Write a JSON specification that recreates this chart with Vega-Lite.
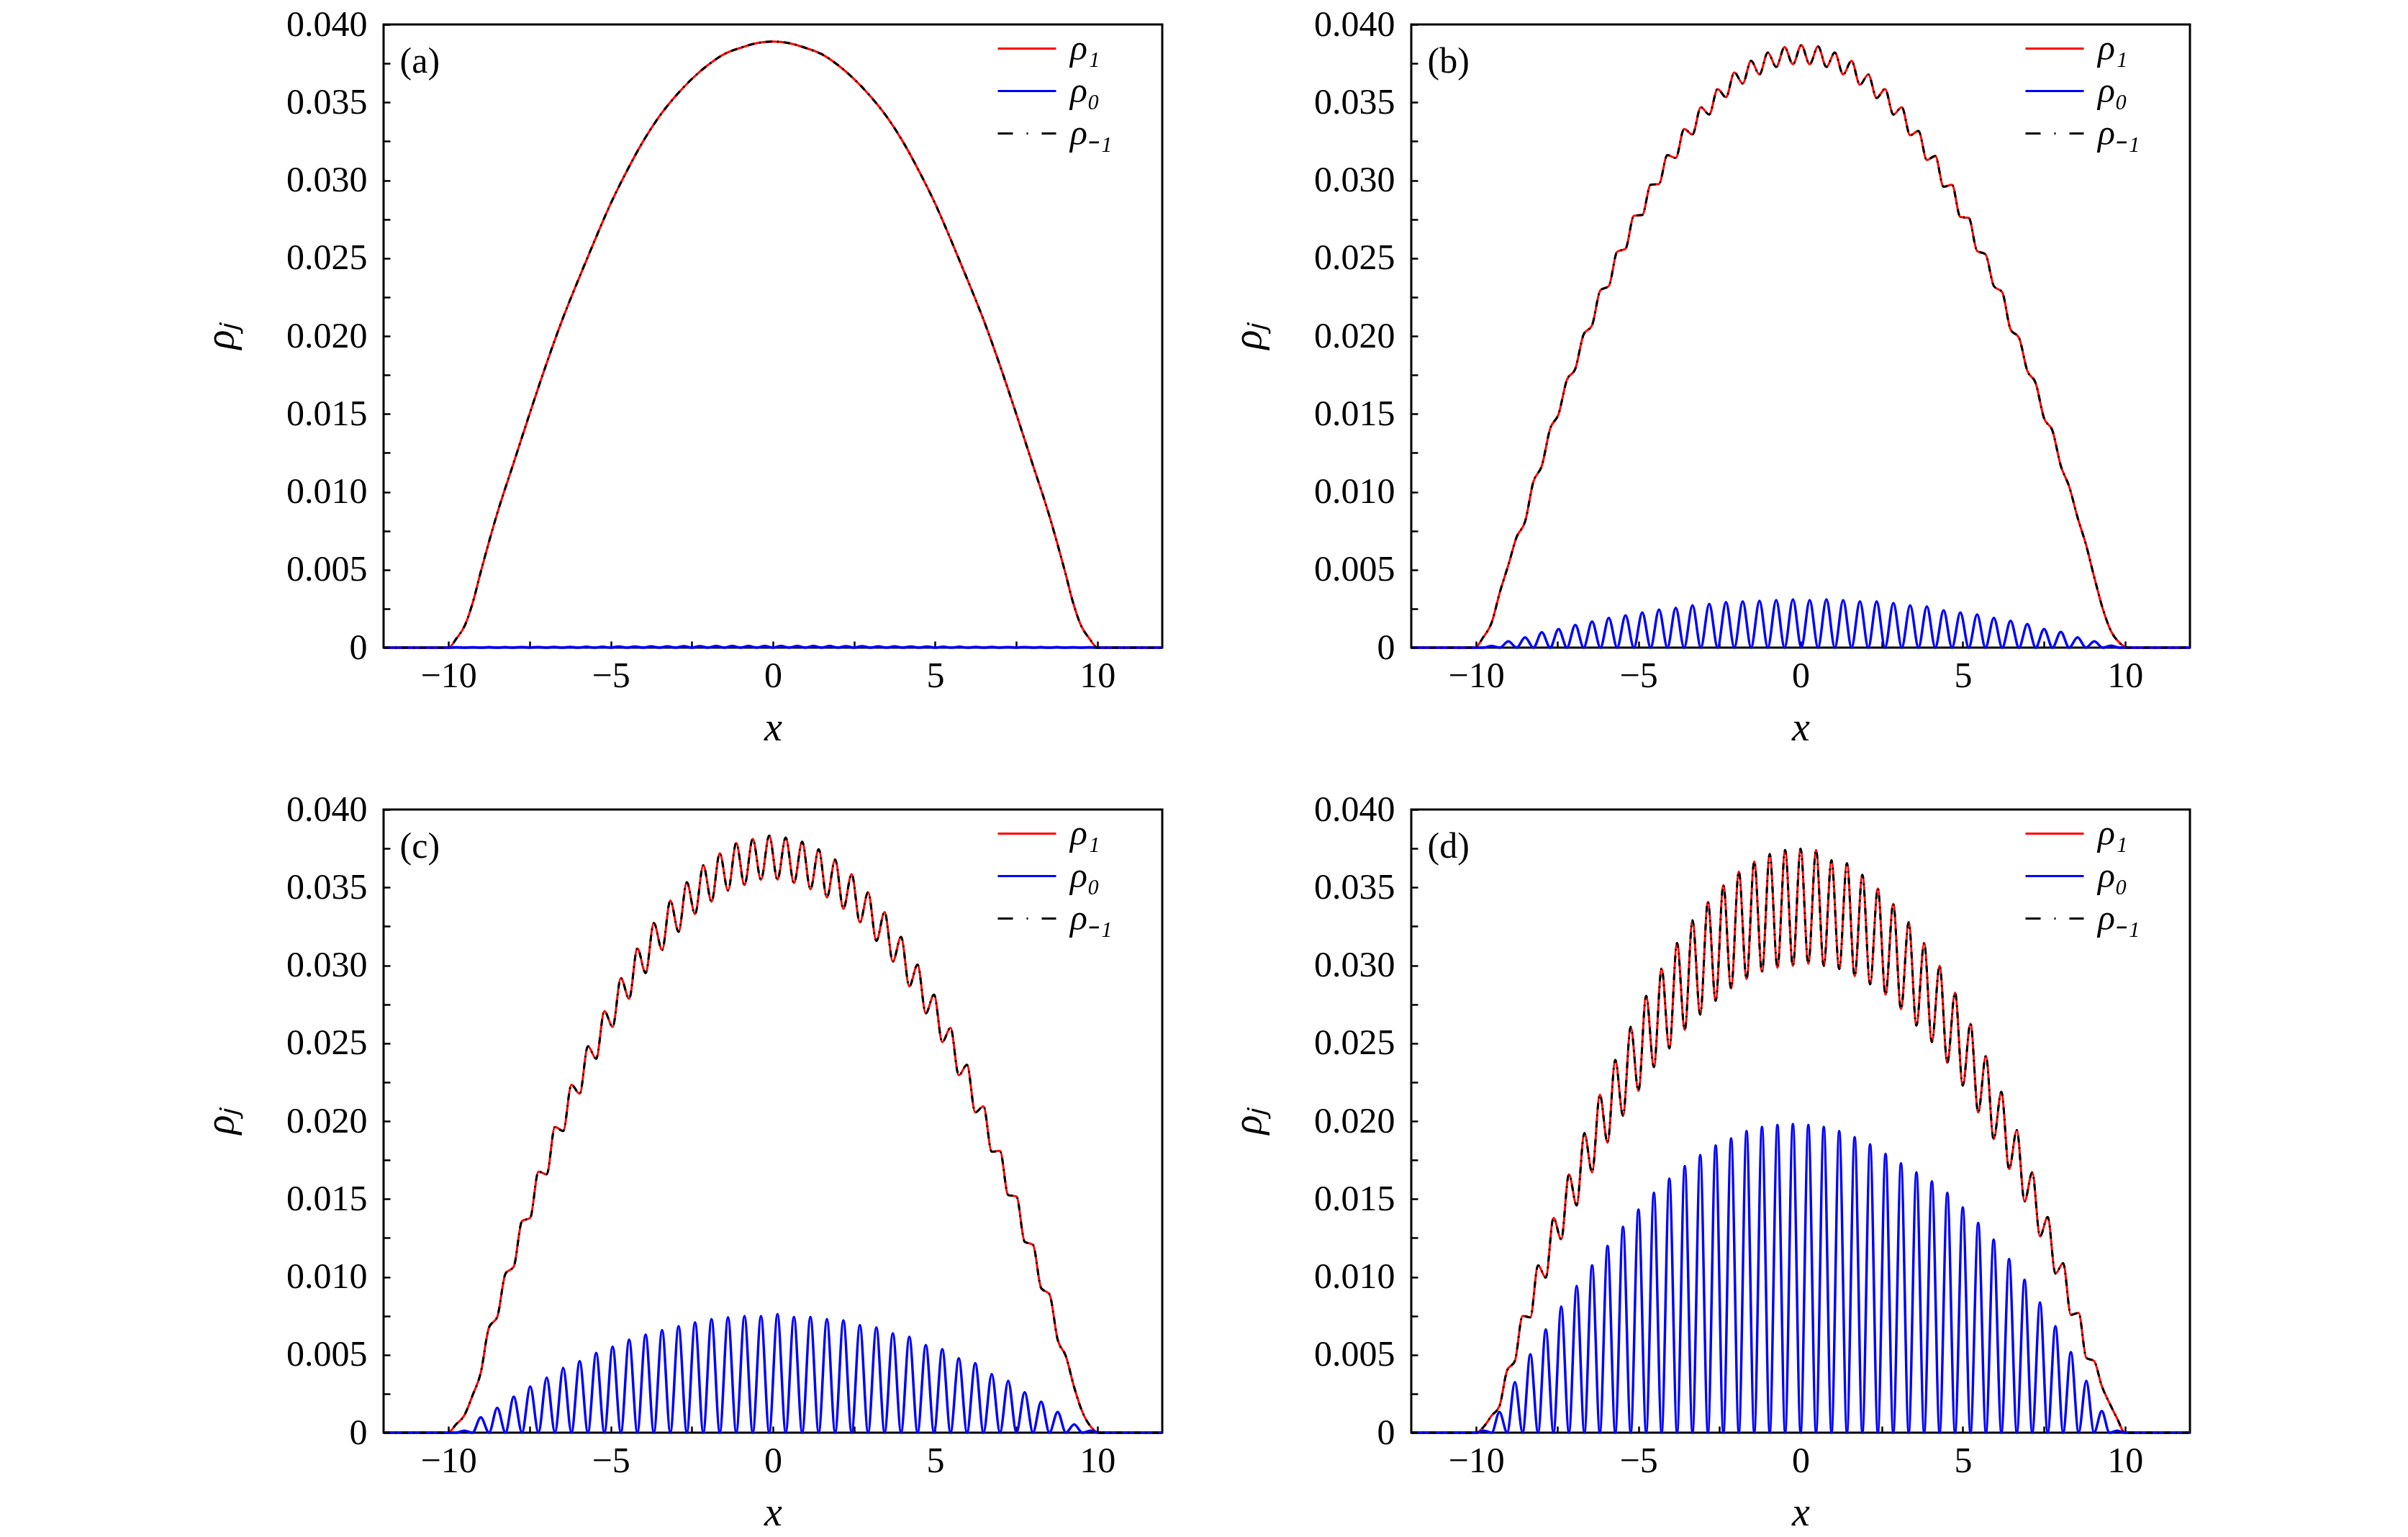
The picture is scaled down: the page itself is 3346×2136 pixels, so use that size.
{
  "$schema": "https://vega.github.io/schema/vega-lite/v6.json",
  "background": "white",
  "padding": {"left": 277, "top": 7, "right": 5, "bottom": 5},
  "datasets": {
    "a": [
      {"x": -12, "p1": 0, "p0": 0},
      {"x": -10, "p1": 0, "p0": 0},
      {"x": -9.75, "p1": 0.0006, "p0": 0.00002},
      {"x": -9.5, "p1": 0.0014, "p0": 0},
      {"x": -9.25, "p1": 0.0029, "p0": 0.00002},
      {"x": -9, "p1": 0.0049, "p0": 0},
      {"x": -8.75, "p1": 0.0068, "p0": 0.00003},
      {"x": -8.5, "p1": 0.0086, "p0": 0},
      {"x": -8.25, "p0": 0.00003},
      {"x": -8, "p1": 0.0118, "p0": 0},
      {"x": -7.75, "p0": 0.00004},
      {"x": -7.5, "p1": 0.015, "p0": 0},
      {"x": -7.25, "p0": 0.00004},
      {"x": -7, "p1": 0.0181, "p0": 0},
      {"x": -6.75, "p0": 0.00005},
      {"x": -6.5, "p1": 0.021, "p0": 0},
      {"x": -6.25, "p0": 0.00005},
      {"x": -6, "p1": 0.0236, "p0": 0},
      {"x": -5.75, "p0": 0.00006},
      {"x": -5.5, "p1": 0.0261, "p0": 0},
      {"x": -5.25, "p0": 0.00006},
      {"x": -5, "p1": 0.0285, "p0": 0},
      {"x": -4.75, "p0": 0.00007},
      {"x": -4.5, "p1": 0.0306, "p0": 0},
      {"x": -4.25, "p0": 0.00007},
      {"x": -4, "p1": 0.0325, "p0": 0},
      {"x": -3.75, "p0": 0.00008},
      {"x": -3.5, "p1": 0.0341, "p0": 0},
      {"x": -3.25, "p0": 0.00008},
      {"x": -3, "p1": 0.0354, "p0": 0},
      {"x": -2.75, "p0": 0.00009},
      {"x": -2.5, "p1": 0.0365, "p0": 0},
      {"x": -2.25, "p0": 0.00009},
      {"x": -2, "p1": 0.0374, "p0": 0},
      {"x": -1.75, "p0": 0.0001},
      {"x": -1.5, "p1": 0.0381, "p0": 0},
      {"x": -1.25, "p0": 0.0001},
      {"x": -1, "p1": 0.0385, "p0": 0},
      {"x": -0.75, "p0": 0.0001},
      {"x": -0.5, "p1": 0.0388, "p0": 0},
      {"x": -0.25, "p0": 0.0001},
      {"x": 0, "p1": 0.0389, "p0": 0},
      {"x": 0.25, "p0": 0.0001},
      {"x": 0.5, "p1": 0.0388, "p0": 0},
      {"x": 0.75, "p0": 0.0001},
      {"x": 1, "p1": 0.0385, "p0": 0},
      {"x": 1.25, "p0": 0.0001},
      {"x": 1.5, "p1": 0.0381, "p0": 0},
      {"x": 1.75, "p0": 0.0001},
      {"x": 2, "p1": 0.0374, "p0": 0},
      {"x": 2.25, "p0": 0.00009},
      {"x": 2.5, "p1": 0.0365, "p0": 0},
      {"x": 2.75, "p0": 0.00009},
      {"x": 3, "p1": 0.0354, "p0": 0},
      {"x": 3.25, "p0": 0.00008},
      {"x": 3.5, "p1": 0.0341, "p0": 0},
      {"x": 3.75, "p0": 0.00008},
      {"x": 4, "p1": 0.0325, "p0": 0},
      {"x": 4.25, "p0": 0.00007},
      {"x": 4.5, "p1": 0.0306, "p0": 0},
      {"x": 4.75, "p0": 0.00007},
      {"x": 5, "p1": 0.0285, "p0": 0},
      {"x": 5.25, "p0": 0.00006},
      {"x": 5.5, "p1": 0.0261, "p0": 0},
      {"x": 5.75, "p0": 0.00006},
      {"x": 6, "p1": 0.0236, "p0": 0},
      {"x": 6.25, "p0": 0.00005},
      {"x": 6.5, "p1": 0.021, "p0": 0},
      {"x": 6.75, "p0": 0.00005},
      {"x": 7, "p1": 0.0181, "p0": 0},
      {"x": 7.25, "p0": 0.00004},
      {"x": 7.5, "p1": 0.015, "p0": 0},
      {"x": 7.75, "p0": 0.00004},
      {"x": 8, "p1": 0.0118, "p0": 0},
      {"x": 8.25, "p0": 0.00003},
      {"x": 8.5, "p1": 0.0086, "p0": 0},
      {"x": 8.75, "p1": 0.0068, "p0": 0.00003},
      {"x": 9, "p1": 0.0049, "p0": 0},
      {"x": 9.25, "p1": 0.0029, "p0": 0.00002},
      {"x": 9.5, "p1": 0.0014, "p0": 0},
      {"x": 9.75, "p1": 0.0006, "p0": 0.00002},
      {"x": 10, "p1": 0, "p0": 0},
      {"x": 12, "p1": 0, "p0": 0}
    ],
    "b": [
      {"x": -12, "p1": 0, "p0": 0},
      {"x": -10.04, "p1": 0, "p0": 0},
      {"x": -9.782, "p1": 0.00066, "p0": 0},
      {"x": -9.524, "p1": 0.00159, "p0": 0.0001},
      {"x": -9.266, "p1": 0.00358, "p0": 0},
      {"x": -9.008, "p1": 0.0053, "p0": 0.0004},
      {"x": -8.75, "p1": 0.00711, "p0": 0},
      {"x": -8.492, "p1": 0.00809, "p0": 0.00066},
      {"x": -8.234, "p1": 0.01066, "p0": 0},
      {"x": -7.976, "p1": 0.01167, "p0": 0.00098},
      {"x": -7.718, "p1": 0.01406, "p0": 0},
      {"x": -7.46, "p1": 0.01499, "p0": 0.00119},
      {"x": -7.202, "p1": 0.01719, "p0": 0},
      {"x": -6.944, "p1": 0.0179, "p0": 0.00146},
      {"x": -6.686, "p1": 0.02011, "p0": 0},
      {"x": -6.428, "p1": 0.02069, "p0": 0.00167},
      {"x": -6.17, "p1": 0.02294, "p0": 0},
      {"x": -5.912, "p1": 0.02321, "p0": 0.00191},
      {"x": -5.654, "p1": 0.02541, "p0": 0},
      {"x": -5.396, "p1": 0.0256, "p0": 0.00207},
      {"x": -5.138, "p1": 0.02772, "p0": 0},
      {"x": -4.88, "p1": 0.02777, "p0": 0.00225},
      {"x": -4.622, "p1": 0.02971, "p0": 0},
      {"x": -4.364, "p1": 0.02976, "p0": 0.00244},
      {"x": -4.106, "p1": 0.03162, "p0": 0},
      {"x": -3.848, "p1": 0.03143, "p0": 0.00255},
      {"x": -3.59, "p1": 0.03329, "p0": 0},
      {"x": -3.332, "p1": 0.03294, "p0": 0.00271},
      {"x": -3.074, "p1": 0.03469, "p0": 0},
      {"x": -2.816, "p1": 0.03422, "p0": 0.00281},
      {"x": -2.558, "p1": 0.03586, "p0": 0},
      {"x": -2.3, "p1": 0.03533, "p0": 0.00292},
      {"x": -2.042, "p1": 0.03692, "p0": 0},
      {"x": -1.784, "p1": 0.03621, "p0": 0.00297},
      {"x": -1.526, "p1": 0.03767, "p0": 0},
      {"x": -1.268, "p1": 0.03679, "p0": 0.003},
      {"x": -1.01, "p1": 0.0382, "p0": 0},
      {"x": -0.752, "p1": 0.03727, "p0": 0.00305},
      {"x": -0.494, "p1": 0.03854, "p0": 0},
      {"x": -0.236, "p1": 0.03745, "p0": 0.0031},
      {"x": 0.022, "p1": 0.03867, "p0": 0},
      {"x": 0.28, "p1": 0.03745, "p0": 0.00305},
      {"x": 0.538, "p1": 0.03859, "p0": 0},
      {"x": 0.796, "p1": 0.03727, "p0": 0.0031},
      {"x": 1.054, "p1": 0.0382, "p0": 0},
      {"x": 1.312, "p1": 0.03679, "p0": 0.00305},
      {"x": 1.57, "p1": 0.03767, "p0": 0},
      {"x": 1.828, "p1": 0.03613, "p0": 0.00297},
      {"x": 2.086, "p1": 0.03679, "p0": 0},
      {"x": 2.344, "p1": 0.03528, "p0": 0.00297},
      {"x": 2.602, "p1": 0.03586, "p0": 0},
      {"x": 2.86, "p1": 0.03422, "p0": 0.00286},
      {"x": 3.118, "p1": 0.03469, "p0": 0},
      {"x": 3.376, "p1": 0.03289, "p0": 0.00271},
      {"x": 3.634, "p1": 0.03316, "p0": 0},
      {"x": 3.892, "p1": 0.0313, "p0": 0.00265},
      {"x": 4.15, "p1": 0.03156, "p0": 0},
      {"x": 4.408, "p1": 0.02958, "p0": 0.00239},
      {"x": 4.666, "p1": 0.02971, "p0": 0},
      {"x": 4.924, "p1": 0.02764, "p0": 0.00225},
      {"x": 5.182, "p1": 0.02759, "p0": 0},
      {"x": 5.44, "p1": 0.02546, "p0": 0.00212},
      {"x": 5.698, "p1": 0.02525, "p0": 0},
      {"x": 5.956, "p1": 0.02321, "p0": 0.00191},
      {"x": 6.214, "p1": 0.02281, "p0": 0},
      {"x": 6.472, "p1": 0.02042, "p0": 0.00172},
      {"x": 6.73, "p1": 0.01989, "p0": 0},
      {"x": 6.988, "p1": 0.01777, "p0": 0.00151},
      {"x": 7.246, "p1": 0.01698, "p0": 0},
      {"x": 7.504, "p1": 0.01472, "p0": 0.00119},
      {"x": 7.762, "p1": 0.01393, "p0": 0},
      {"x": 8.02, "p1": 0.01167, "p0": 0.00101},
      {"x": 8.278, "p1": 0.01034, "p0": 0},
      {"x": 8.536, "p1": 0.00836, "p0": 0.00066},
      {"x": 8.794, "p1": 0.00663, "p0": 0},
      {"x": 9.052, "p1": 0.00451, "p0": 0.0004},
      {"x": 9.31, "p1": 0.00252, "p0": 0},
      {"x": 9.568, "p1": 0.00106, "p0": 0.00013},
      {"x": 9.826, "p1": 0.00032, "p0": 0},
      {"x": 10.084, "p1": 0, "p0": 0},
      {"x": 12, "p1": 0, "p0": 0}
    ],
    "c": [
      {"x": -12, "p1": 0, "p0": 0},
      {"x": -10.02, "p1": 0, "p0": 0},
      {"x": -9.766, "p1": 0.00053, "p0": 0},
      {"x": -9.512, "p1": 0.00111, "p0": 0.00013},
      {"x": -9.258, "p1": 0.00239, "p0": 0},
      {"x": -9.004, "p1": 0.00385, "p0": 0.00098},
      {"x": -8.75, "p1": 0.00676, "p0": 0},
      {"x": -8.496, "p1": 0.00743, "p0": 0.00159},
      {"x": -8.242, "p1": 0.01021, "p0": 0},
      {"x": -7.988, "p1": 0.01066, "p0": 0.00231},
      {"x": -7.734, "p1": 0.01358, "p0": 0},
      {"x": -7.48, "p1": 0.01379, "p0": 0.00297},
      {"x": -7.226, "p1": 0.01676, "p0": 0},
      {"x": -6.972, "p1": 0.01658, "p0": 0.00353},
      {"x": -6.718, "p1": 0.01963, "p0": 0},
      {"x": -6.464, "p1": 0.01936, "p0": 0.00416},
      {"x": -6.21, "p1": 0.02233, "p0": 0},
      {"x": -5.956, "p1": 0.02175, "p0": 0.00459},
      {"x": -5.702, "p1": 0.0248, "p0": 0},
      {"x": -5.448, "p1": 0.024, "p0": 0.00512},
      {"x": -5.194, "p1": 0.02706, "p0": 0},
      {"x": -4.94, "p1": 0.02605, "p0": 0.00552},
      {"x": -4.686, "p1": 0.02918, "p0": 0},
      {"x": -4.432, "p1": 0.02785, "p0": 0.00597},
      {"x": -4.178, "p1": 0.03109, "p0": 0},
      {"x": -3.924, "p1": 0.0295, "p0": 0.00629},
      {"x": -3.67, "p1": 0.03271, "p0": 0},
      {"x": -3.416, "p1": 0.03098, "p0": 0.00658},
      {"x": -3.162, "p1": 0.03416, "p0": 0},
      {"x": -2.908, "p1": 0.03215, "p0": 0.00684},
      {"x": -2.654, "p1": 0.03533, "p0": 0},
      {"x": -2.4, "p1": 0.03329, "p0": 0.00708},
      {"x": -2.146, "p1": 0.03642, "p0": 0},
      {"x": -1.892, "p1": 0.03408, "p0": 0.00729},
      {"x": -1.638, "p1": 0.03719, "p0": 0},
      {"x": -1.384, "p1": 0.0348, "p0": 0.0074},
      {"x": -1.13, "p1": 0.03785, "p0": 0},
      {"x": -0.876, "p1": 0.03515, "p0": 0.00748},
      {"x": -0.622, "p1": 0.03812, "p0": 0},
      {"x": -0.368, "p1": 0.03549, "p0": 0.00748},
      {"x": -0.114, "p1": 0.03833, "p0": 0},
      {"x": 0.14, "p1": 0.0355, "p0": 0.00761},
      {"x": 0.394, "p1": 0.0382, "p0": 0},
      {"x": 0.648, "p1": 0.03528, "p0": 0.00743},
      {"x": 0.902, "p1": 0.03793, "p0": 0},
      {"x": 1.156, "p1": 0.03488, "p0": 0.00743},
      {"x": 1.41, "p1": 0.03745, "p0": 0},
      {"x": 1.664, "p1": 0.03435, "p0": 0.00729},
      {"x": 1.918, "p1": 0.03679, "p0": 0},
      {"x": 2.172, "p1": 0.03363, "p0": 0.00721},
      {"x": 2.426, "p1": 0.03586, "p0": 0},
      {"x": 2.68, "p1": 0.03276, "p0": 0.0069},
      {"x": 2.934, "p1": 0.03469, "p0": 0},
      {"x": 3.188, "p1": 0.03156, "p0": 0.00676},
      {"x": 3.442, "p1": 0.03342, "p0": 0},
      {"x": 3.696, "p1": 0.03024, "p0": 0.00637},
      {"x": 3.95, "p1": 0.03183, "p0": 0},
      {"x": 4.204, "p1": 0.02865, "p0": 0.00615},
      {"x": 4.458, "p1": 0.03005, "p0": 0},
      {"x": 4.712, "p1": 0.02692, "p0": 0.00562},
      {"x": 4.966, "p1": 0.02812, "p0": 0},
      {"x": 5.22, "p1": 0.02507, "p0": 0.00536},
      {"x": 5.474, "p1": 0.02599, "p0": 0},
      {"x": 5.728, "p1": 0.02294, "p0": 0.00477},
      {"x": 5.982, "p1": 0.02361, "p0": 0},
      {"x": 6.236, "p1": 0.02056, "p0": 0.00446},
      {"x": 6.49, "p1": 0.02095, "p0": 0},
      {"x": 6.744, "p1": 0.01804, "p0": 0.00377},
      {"x": 6.998, "p1": 0.01809, "p0": 0},
      {"x": 7.252, "p1": 0.01525, "p0": 0.00332},
      {"x": 7.506, "p1": 0.01517, "p0": 0},
      {"x": 7.76, "p1": 0.01225, "p0": 0.0026},
      {"x": 8.014, "p1": 0.01207, "p0": 0},
      {"x": 8.268, "p1": 0.00928, "p0": 0.00199},
      {"x": 8.522, "p1": 0.00889, "p0": 0},
      {"x": 8.776, "p1": 0.00597, "p0": 0.00133},
      {"x": 9.03, "p1": 0.00491, "p0": 0},
      {"x": 9.284, "p1": 0.00292, "p0": 0.00053},
      {"x": 9.538, "p1": 0.00133, "p0": 0},
      {"x": 9.792, "p1": 0.0004, "p0": 0.00013},
      {"x": 10.046, "p1": 0, "p0": 0},
      {"x": 12, "p1": 0, "p0": 0}
    ],
    "d": [
      {"x": -12, "p1": 0, "p0": 0},
      {"x": -9.996, "p1": 0, "p0": 0},
      {"x": -9.758, "p1": 0.0004, "p0": 0.00013},
      {"x": -9.52, "p1": 0.0011, "p0": 0},
      {"x": -9.282, "p1": 0.0017, "p0": 0.00133},
      {"x": -9.044, "p1": 0.004, "p0": 0},
      {"x": -8.806, "p1": 0.0046, "p0": 0.00324},
      {"x": -8.568, "p1": 0.0075, "p0": 0},
      {"x": -8.33, "p1": 0.0074, "p0": 0.00504},
      {"x": -8.092, "p1": 0.01074, "p0": 0},
      {"x": -7.854, "p1": 0.00995, "p0": 0.00663},
      {"x": -7.616, "p1": 0.01379, "p0": 0},
      {"x": -7.378, "p1": 0.01241, "p0": 0.00809},
      {"x": -7.14, "p1": 0.01658, "p0": 0},
      {"x": -6.902, "p1": 0.01459, "p0": 0.00942},
      {"x": -6.664, "p1": 0.01923, "p0": 0},
      {"x": -6.426, "p1": 0.01671, "p0": 0.01074},
      {"x": -6.188, "p1": 0.0217, "p0": 0},
      {"x": -5.95, "p1": 0.01862, "p0": 0.01199},
      {"x": -5.712, "p1": 0.02393, "p0": 0},
      {"x": -5.474, "p1": 0.02034, "p0": 0.01321},
      {"x": -5.236, "p1": 0.02605, "p0": 0},
      {"x": -4.998, "p1": 0.02194, "p0": 0.01432},
      {"x": -4.76, "p1": 0.02804, "p0": 0},
      {"x": -4.522, "p1": 0.02347, "p0": 0.01539},
      {"x": -4.284, "p1": 0.02979, "p0": 0},
      {"x": -4.046, "p1": 0.02467, "p0": 0.01631},
      {"x": -3.808, "p1": 0.03143, "p0": 0},
      {"x": -3.57, "p1": 0.02586, "p0": 0.01711},
      {"x": -3.332, "p1": 0.03289, "p0": 0},
      {"x": -3.094, "p1": 0.02684, "p0": 0.01782},
      {"x": -2.856, "p1": 0.03408, "p0": 0},
      {"x": -2.618, "p1": 0.02772, "p0": 0.01844},
      {"x": -2.38, "p1": 0.03515, "p0": 0},
      {"x": -2.142, "p1": 0.02851, "p0": 0.01889},
      {"x": -1.904, "p1": 0.03602, "p0": 0},
      {"x": -1.666, "p1": 0.02912, "p0": 0.01936},
      {"x": -1.428, "p1": 0.03666, "p0": 0},
      {"x": -1.19, "p1": 0.02958, "p0": 0.01963},
      {"x": -0.952, "p1": 0.03714, "p0": 0},
      {"x": -0.714, "p1": 0.02984, "p0": 0.01976},
      {"x": -0.476, "p1": 0.0374, "p0": 0},
      {"x": -0.238, "p1": 0.02997, "p0": 0.01981},
      {"x": 0, "p1": 0.03748, "p0": 0},
      {"x": 0.238, "p1": 0.0301, "p0": 0.01976},
      {"x": 0.476, "p1": 0.0374, "p0": 0},
      {"x": 0.714, "p1": 0.02997, "p0": 0.01963},
      {"x": 0.952, "p1": 0.03674, "p0": 0},
      {"x": 1.19, "p1": 0.02976, "p0": 0.01936},
      {"x": 1.428, "p1": 0.03655, "p0": 0},
      {"x": 1.666, "p1": 0.02931, "p0": 0.01897},
      {"x": 1.904, "p1": 0.03581, "p0": 0},
      {"x": 2.142, "p1": 0.02878, "p0": 0.01851},
      {"x": 2.38, "p1": 0.03493, "p0": 0},
      {"x": 2.618, "p1": 0.02812, "p0": 0.0179},
      {"x": 2.856, "p1": 0.03395, "p0": 0},
      {"x": 3.094, "p1": 0.02719, "p0": 0.01729},
      {"x": 3.332, "p1": 0.03276, "p0": 0},
      {"x": 3.57, "p1": 0.02613, "p0": 0.01671},
      {"x": 3.808, "p1": 0.03143, "p0": 0},
      {"x": 4.046, "p1": 0.02507, "p0": 0.01613},
      {"x": 4.284, "p1": 0.02997, "p0": 0},
      {"x": 4.522, "p1": 0.02374, "p0": 0.01539},
      {"x": 4.76, "p1": 0.02825, "p0": 0},
      {"x": 4.998, "p1": 0.02228, "p0": 0.01446},
      {"x": 5.236, "p1": 0.02626, "p0": 0},
      {"x": 5.474, "p1": 0.02056, "p0": 0.01347},
      {"x": 5.712, "p1": 0.02419, "p0": 0},
      {"x": 5.95, "p1": 0.01883, "p0": 0.01239},
      {"x": 6.188, "p1": 0.02188, "p0": 0},
      {"x": 6.426, "p1": 0.01692, "p0": 0.01114},
      {"x": 6.664, "p1": 0.01942, "p0": 0},
      {"x": 6.902, "p1": 0.01485, "p0": 0.00981},
      {"x": 7.14, "p1": 0.01671, "p0": 0},
      {"x": 7.378, "p1": 0.0126, "p0": 0.00836},
      {"x": 7.616, "p1": 0.01385, "p0": 0},
      {"x": 7.854, "p1": 0.01021, "p0": 0.00684},
      {"x": 8.092, "p1": 0.01088, "p0": 0},
      {"x": 8.33, "p1": 0.00756, "p0": 0.00517},
      {"x": 8.568, "p1": 0.00769, "p0": 0},
      {"x": 8.806, "p1": 0.0048, "p0": 0.00332},
      {"x": 9.044, "p1": 0.0046, "p0": 0},
      {"x": 9.282, "p1": 0.003, "p0": 0.00138},
      {"x": 9.52, "p1": 0.0019, "p0": 0},
      {"x": 9.758, "p1": 0.0009, "p0": 0.00013},
      {"x": 9.996, "p1": 0, "p0": 0},
      {"x": 12, "p1": 0, "p0": 0}
    ]
  },
  "columns": 2,
  "spacing": {"row": 225, "column": 346},
  "bounds": "flush",
  "resolve": {"scale": {"color": "independent"}},
  "concat": [
    {
      "width": 1082, "height": 866,
      "data": {"name": "a"},
      "layer": [
        {"mark": {"type": "line", "interpolate": "monotone", "strokeWidth": 3, "invalid": "filter"},
         "encoding": {
           "x": {"field": "x", "type": "quantitative", "title": "x",
             "scale": {"domain": [-12, 12], "nice": false, "zero": false},
             "axis": {"values": [-10, -7.5, -5, -2.5, 0, 2.5, 5, 7.5, 10],
               "labelExpr": "datum.value % 5 == 0 ? format(datum.value, 'd') : ''",
               "tickSize": -9, "labelPadding": 23, "titlePadding": 20,
               "encode": {"ticks": {"update": {"y2": {"signal": "datum.value % 5 == 0 ? -15 : -9"}}}}}},
           "y": {"field": "p1", "type": "quantitative", "title": "ρⱼ",
             "scale": {"domain": [0, 0.04], "nice": false},
             "axis": {"values": [0, 0.0025, 0.005, 0.0075, 0.01, 0.0125, 0.015, 0.0175, 0.02, 0.0225, 0.025, 0.0275, 0.03, 0.0325, 0.035, 0.0375, 0.04],
               "labelExpr": "round(datum.value*10000) % 50 == 0 ? (datum.value == 0 ? '0' : format(datum.value, '.3f')) : ''",
               "tickSize": -9, "labelPadding": 32, "titlePadding": 62,
               "encode": {"ticks": {"update": {"x2": {"signal": "round(datum.value*10000) % 50 == 0 ? 15 : 9"}}}}}},
           "color": {"datum": "ρ₁", "type": "nominal",
             "scale": {"domain": ["ρ₁", "ρ₀", "ρ₋₁"], "range": ["#ff0000", "#0000ff", "#000000"]},
             "legend": {"title": null, "encode": {"symbols": {"update": {"strokeDash": {"signal": "datum.value == 'ρ₋₁' ? [21, 19, 2, 19] : [1, 0]"}}}}}}
         }},
        {"mark": {"type": "line", "interpolate": "monotone", "strokeWidth": 3.5, "invalid": "filter"},
         "encoding": {
           "x": {"field": "x", "type": "quantitative", "title": "x", "scale": {"domain": [-12, 12], "nice": false, "zero": false}},
           "y": {"field": "p0", "type": "quantitative", "title": "ρⱼ", "scale": {"domain": [0, 0.04], "nice": false}},
           "color": {"datum": "ρ₀", "type": "nominal", "scale": {"domain": ["ρ₁", "ρ₀", "ρ₋₁"], "range": ["#ff0000", "#0000ff", "#000000"]}}
         }},
        {"mark": {"type": "line", "interpolate": "monotone", "strokeWidth": 3, "strokeDash": [9, 7, 2, 7], "invalid": "filter"},
         "encoding": {
           "x": {"field": "x", "type": "quantitative", "title": "x", "scale": {"domain": [-12, 12], "nice": false, "zero": false}},
           "y": {"field": "p1", "type": "quantitative", "title": "ρⱼ", "scale": {"domain": [0, 0.04], "nice": false}},
           "color": {"datum": "ρ₋₁", "type": "nominal", "scale": {"domain": ["ρ₁", "ρ₀", "ρ₋₁"], "range": ["#ff0000", "#0000ff", "#000000"]}}
         }},
        {"data": {"values": [{"t": "(a)"}]},
         "mark": {"type": "text", "align": "left", "baseline": "middle", "fontSize": 50, "font": "Liberation Serif", "color": "#000"},
         "encoding": {
           "x": {"datum": -11.5, "type": "quantitative", "title": "x"},
           "y": {"datum": 0.0376, "type": "quantitative", "title": "ρⱼ"},
           "text": {"field": "t"}
         }}
      ]
    },
    {
      "width": 1082, "height": 866,
      "data": {"name": "b"},
      "layer": [
        {"mark": {"type": "line", "interpolate": "monotone", "strokeWidth": 3, "invalid": "filter"},
         "encoding": {
           "x": {"field": "x", "type": "quantitative", "title": "x",
             "scale": {"domain": [-12, 12], "nice": false, "zero": false},
             "axis": {"values": [-10, -7.5, -5, -2.5, 0, 2.5, 5, 7.5, 10],
               "labelExpr": "datum.value % 5 == 0 ? format(datum.value, 'd') : ''",
               "tickSize": -9, "labelPadding": 23, "titlePadding": 20,
               "encode": {"ticks": {"update": {"y2": {"signal": "datum.value % 5 == 0 ? -15 : -9"}}}}}},
           "y": {"field": "p1", "type": "quantitative", "title": "ρⱼ",
             "scale": {"domain": [0, 0.04], "nice": false},
             "axis": {"values": [0, 0.0025, 0.005, 0.0075, 0.01, 0.0125, 0.015, 0.0175, 0.02, 0.0225, 0.025, 0.0275, 0.03, 0.0325, 0.035, 0.0375, 0.04],
               "labelExpr": "round(datum.value*10000) % 50 == 0 ? (datum.value == 0 ? '0' : format(datum.value, '.3f')) : ''",
               "tickSize": -9, "labelPadding": 32, "titlePadding": 62,
               "encode": {"ticks": {"update": {"x2": {"signal": "round(datum.value*10000) % 50 == 0 ? 15 : 9"}}}}}},
           "color": {"datum": "ρ₁", "type": "nominal",
             "scale": {"domain": ["ρ₁", "ρ₀", "ρ₋₁"], "range": ["#ff0000", "#0000ff", "#000000"]},
             "legend": {"title": null, "encode": {"symbols": {"update": {"strokeDash": {"signal": "datum.value == 'ρ₋₁' ? [21, 19, 2, 19] : [1, 0]"}}}}}}
         }},
        {"mark": {"type": "line", "interpolate": "monotone", "strokeWidth": 3.5, "invalid": "filter"},
         "encoding": {
           "x": {"field": "x", "type": "quantitative", "title": "x", "scale": {"domain": [-12, 12], "nice": false, "zero": false}},
           "y": {"field": "p0", "type": "quantitative", "title": "ρⱼ", "scale": {"domain": [0, 0.04], "nice": false}},
           "color": {"datum": "ρ₀", "type": "nominal", "scale": {"domain": ["ρ₁", "ρ₀", "ρ₋₁"], "range": ["#ff0000", "#0000ff", "#000000"]}}
         }},
        {"mark": {"type": "line", "interpolate": "monotone", "strokeWidth": 3, "strokeDash": [9, 7, 2, 7], "invalid": "filter"},
         "encoding": {
           "x": {"field": "x", "type": "quantitative", "title": "x", "scale": {"domain": [-12, 12], "nice": false, "zero": false}},
           "y": {"field": "p1", "type": "quantitative", "title": "ρⱼ", "scale": {"domain": [0, 0.04], "nice": false}},
           "color": {"datum": "ρ₋₁", "type": "nominal", "scale": {"domain": ["ρ₁", "ρ₀", "ρ₋₁"], "range": ["#ff0000", "#0000ff", "#000000"]}}
         }},
        {"data": {"values": [{"t": "(b)"}]},
         "mark": {"type": "text", "align": "left", "baseline": "middle", "fontSize": 50, "font": "Liberation Serif", "color": "#000"},
         "encoding": {
           "x": {"datum": -11.5, "type": "quantitative", "title": "x"},
           "y": {"datum": 0.0376, "type": "quantitative", "title": "ρⱼ"},
           "text": {"field": "t"}
         }}
      ]
    },
    {
      "width": 1082, "height": 866,
      "data": {"name": "c"},
      "layer": [
        {"mark": {"type": "line", "interpolate": "monotone", "strokeWidth": 3, "invalid": "filter"},
         "encoding": {
           "x": {"field": "x", "type": "quantitative", "title": "x",
             "scale": {"domain": [-12, 12], "nice": false, "zero": false},
             "axis": {"values": [-10, -7.5, -5, -2.5, 0, 2.5, 5, 7.5, 10],
               "labelExpr": "datum.value % 5 == 0 ? format(datum.value, 'd') : ''",
               "tickSize": -9, "labelPadding": 23, "titlePadding": 20,
               "encode": {"ticks": {"update": {"y2": {"signal": "datum.value % 5 == 0 ? -15 : -9"}}}}}},
           "y": {"field": "p1", "type": "quantitative", "title": "ρⱼ",
             "scale": {"domain": [0, 0.04], "nice": false},
             "axis": {"values": [0, 0.0025, 0.005, 0.0075, 0.01, 0.0125, 0.015, 0.0175, 0.02, 0.0225, 0.025, 0.0275, 0.03, 0.0325, 0.035, 0.0375, 0.04],
               "labelExpr": "round(datum.value*10000) % 50 == 0 ? (datum.value == 0 ? '0' : format(datum.value, '.3f')) : ''",
               "tickSize": -9, "labelPadding": 32, "titlePadding": 62,
               "encode": {"ticks": {"update": {"x2": {"signal": "round(datum.value*10000) % 50 == 0 ? 15 : 9"}}}}}},
           "color": {"datum": "ρ₁", "type": "nominal",
             "scale": {"domain": ["ρ₁", "ρ₀", "ρ₋₁"], "range": ["#ff0000", "#0000ff", "#000000"]},
             "legend": {"title": null, "encode": {"symbols": {"update": {"strokeDash": {"signal": "datum.value == 'ρ₋₁' ? [21, 19, 2, 19] : [1, 0]"}}}}}}
         }},
        {"mark": {"type": "line", "interpolate": "monotone", "strokeWidth": 3.5, "invalid": "filter"},
         "encoding": {
           "x": {"field": "x", "type": "quantitative", "title": "x", "scale": {"domain": [-12, 12], "nice": false, "zero": false}},
           "y": {"field": "p0", "type": "quantitative", "title": "ρⱼ", "scale": {"domain": [0, 0.04], "nice": false}},
           "color": {"datum": "ρ₀", "type": "nominal", "scale": {"domain": ["ρ₁", "ρ₀", "ρ₋₁"], "range": ["#ff0000", "#0000ff", "#000000"]}}
         }},
        {"mark": {"type": "line", "interpolate": "monotone", "strokeWidth": 3, "strokeDash": [9, 7, 2, 7], "invalid": "filter"},
         "encoding": {
           "x": {"field": "x", "type": "quantitative", "title": "x", "scale": {"domain": [-12, 12], "nice": false, "zero": false}},
           "y": {"field": "p1", "type": "quantitative", "title": "ρⱼ", "scale": {"domain": [0, 0.04], "nice": false}},
           "color": {"datum": "ρ₋₁", "type": "nominal", "scale": {"domain": ["ρ₁", "ρ₀", "ρ₋₁"], "range": ["#ff0000", "#0000ff", "#000000"]}}
         }},
        {"data": {"values": [{"t": "(c)"}]},
         "mark": {"type": "text", "align": "left", "baseline": "middle", "fontSize": 50, "font": "Liberation Serif", "color": "#000"},
         "encoding": {
           "x": {"datum": -11.5, "type": "quantitative", "title": "x"},
           "y": {"datum": 0.0376, "type": "quantitative", "title": "ρⱼ"},
           "text": {"field": "t"}
         }}
      ]
    },
    {
      "width": 1082, "height": 866,
      "data": {"name": "d"},
      "layer": [
        {"mark": {"type": "line", "interpolate": "monotone", "strokeWidth": 3, "invalid": "filter"},
         "encoding": {
           "x": {"field": "x", "type": "quantitative", "title": "x",
             "scale": {"domain": [-12, 12], "nice": false, "zero": false},
             "axis": {"values": [-10, -7.5, -5, -2.5, 0, 2.5, 5, 7.5, 10],
               "labelExpr": "datum.value % 5 == 0 ? format(datum.value, 'd') : ''",
               "tickSize": -9, "labelPadding": 23, "titlePadding": 20,
               "encode": {"ticks": {"update": {"y2": {"signal": "datum.value % 5 == 0 ? -15 : -9"}}}}}},
           "y": {"field": "p1", "type": "quantitative", "title": "ρⱼ",
             "scale": {"domain": [0, 0.04], "nice": false},
             "axis": {"values": [0, 0.0025, 0.005, 0.0075, 0.01, 0.0125, 0.015, 0.0175, 0.02, 0.0225, 0.025, 0.0275, 0.03, 0.0325, 0.035, 0.0375, 0.04],
               "labelExpr": "round(datum.value*10000) % 50 == 0 ? (datum.value == 0 ? '0' : format(datum.value, '.3f')) : ''",
               "tickSize": -9, "labelPadding": 32, "titlePadding": 62,
               "encode": {"ticks": {"update": {"x2": {"signal": "round(datum.value*10000) % 50 == 0 ? 15 : 9"}}}}}},
           "color": {"datum": "ρ₁", "type": "nominal",
             "scale": {"domain": ["ρ₁", "ρ₀", "ρ₋₁"], "range": ["#ff0000", "#0000ff", "#000000"]},
             "legend": {"title": null, "encode": {"symbols": {"update": {"strokeDash": {"signal": "datum.value == 'ρ₋₁' ? [21, 19, 2, 19] : [1, 0]"}}}}}}
         }},
        {"mark": {"type": "line", "interpolate": "monotone", "strokeWidth": 3.5, "invalid": "filter"},
         "encoding": {
           "x": {"field": "x", "type": "quantitative", "title": "x", "scale": {"domain": [-12, 12], "nice": false, "zero": false}},
           "y": {"field": "p0", "type": "quantitative", "title": "ρⱼ", "scale": {"domain": [0, 0.04], "nice": false}},
           "color": {"datum": "ρ₀", "type": "nominal", "scale": {"domain": ["ρ₁", "ρ₀", "ρ₋₁"], "range": ["#ff0000", "#0000ff", "#000000"]}}
         }},
        {"mark": {"type": "line", "interpolate": "monotone", "strokeWidth": 3, "strokeDash": [9, 7, 2, 7], "invalid": "filter"},
         "encoding": {
           "x": {"field": "x", "type": "quantitative", "title": "x", "scale": {"domain": [-12, 12], "nice": false, "zero": false}},
           "y": {"field": "p1", "type": "quantitative", "title": "ρⱼ", "scale": {"domain": [0, 0.04], "nice": false}},
           "color": {"datum": "ρ₋₁", "type": "nominal", "scale": {"domain": ["ρ₁", "ρ₀", "ρ₋₁"], "range": ["#ff0000", "#0000ff", "#000000"]}}
         }},
        {"data": {"values": [{"t": "(d)"}]},
         "mark": {"type": "text", "align": "left", "baseline": "middle", "fontSize": 50, "font": "Liberation Serif", "color": "#000"},
         "encoding": {
           "x": {"datum": -11.5, "type": "quantitative", "title": "x"},
           "y": {"datum": 0.0376, "type": "quantitative", "title": "ρⱼ"},
           "text": {"field": "t"}
         }}
      ]
    }
  ],
  "config": {
    "font": "Liberation Serif",
    "view": {"stroke": "#000", "strokeWidth": 3},
    "axis": {
      "domain": false, "grid": false,
      "labelFont": "Liberation Serif", "labelFontSize": 50, "labelColor": "#000",
      "labelFlush": false, "labelOverlap": false,
      "tickColor": "#000", "tickWidth": 2.5,
      "titleFont": "Liberation Serif", "titleFontSize": 56, "titleFontStyle": "italic",
      "titleFontWeight": "normal", "titleColor": "#000"
    },
    "legend": {
      "orient": "none", "legendX": 852, "legendY": 4, "padding": 0,
      "labelFont": "Liberation Serif", "labelFontSize": 50, "labelFontStyle": "italic", "labelColor": "#000",
      "labelOffset": 18, "labelLimit": 0, "rowPadding": 0, "clipHeight": 59,
      "symbolType": "stroke", "symbolSize": 6561, "symbolStrokeWidth": 3
    }
  }
}
